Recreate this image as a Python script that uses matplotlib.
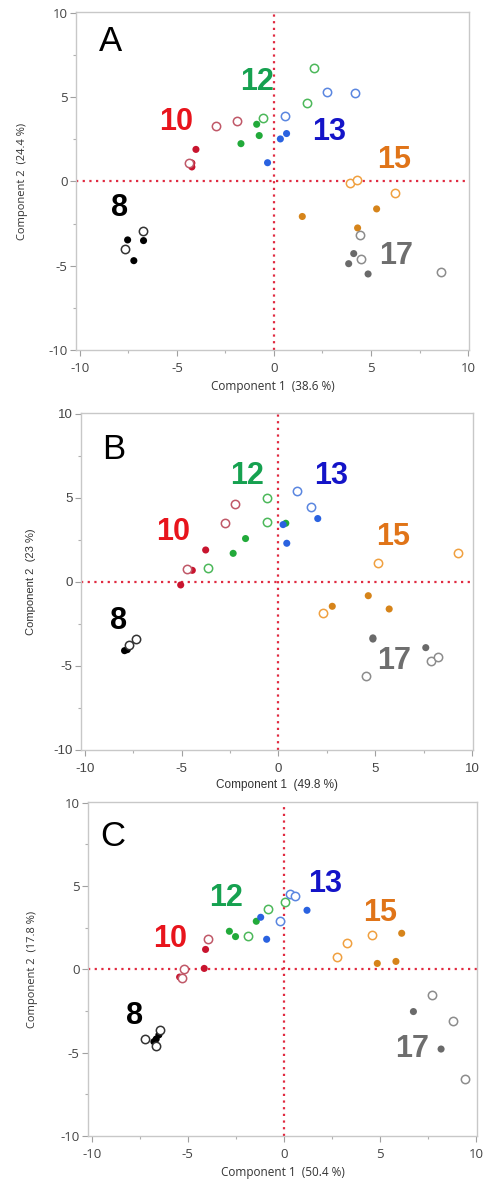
import matplotlib
matplotlib.use("Agg")
import matplotlib.pyplot as plt
import numpy as np

plt.rcParams["axes.unicode_minus"] = False

# ---- data ----
# group = sample label, hollow = 1 for open circles
A_x = [-7.54, -6.72, -7.22, -6.73, -7.65,
       -4.02, -4.23, -4.23, -4.40, -3.00, -1.91,
       -0.89, -0.76, -1.70, -0.55, 1.70, 2.05,
       0.33, 0.65, -0.33, 0.57, 2.73, 4.19,
       1.46, 5.29, 4.31, 3.90, 4.26, 6.24,
       4.11, 3.85, 4.85, 4.43, 4.50, 8.61]
A_y = [-3.47, -3.51, -4.70, -2.93, -4.03,
       1.90, 1.09, 0.86, 1.11, 3.26, 3.60,
       3.39, 2.72, 2.24, 3.79, 4.67, 6.70,
       2.52, 2.84, 1.11, 3.90, 5.30, 5.24,
       -2.08, -1.63, -2.76, -0.08, 0.10, -0.69,
       -4.28, -4.88, -5.49, -3.15, -4.60, -5.36]
A_group = [8] * 5 + [10] * 6 + [12] * 6 + [13] * 6 + [15] * 6 + [17] * 6
A_hollow = [0, 0, 0, 1, 1,
            0, 0, 0, 1, 1, 1,
            0, 0, 0, 1, 1, 1,
            0, 0, 0, 1, 1, 1,
            0, 0, 0, 1, 1, 1,
            0, 0, 0, 1, 1, 1]

B_x = [-7.81, -7.95, -7.34, -7.70,
       -3.76, -4.45, -5.05, -4.72, -2.75, -2.27,
       -1.70, -2.34, 0.38, -3.66, -0.60, -0.58,
       2.03, 0.24, 0.43, 0.95, 1.67,
       4.64, 2.78, 5.72, 2.29, 5.14, 9.25,
       4.88, 4.88, 7.61, 7.87, 8.23, 4.50]
B_y = [-4.03, -4.09, -3.38, -3.75,
       1.90, 0.69, -0.18, 0.75, 3.49, 4.62,
       2.58, 1.70, 3.49, 0.83, 3.57, 4.98,
       3.77, 3.41, 2.30, 5.42, 4.46,
       -0.82, -1.45, -1.61, -1.83, 1.11, 1.74,
       -3.33, -3.40, -3.91, -4.72, -4.49, -5.58]
B_group = [8] * 4 + [10] * 6 + [12] * 6 + [13] * 5 + [15] * 6 + [17] * 6
B_hollow = [0, 0, 1, 1,
            0, 0, 0, 1, 1, 1,
            0, 0, 0, 1, 1, 1,
            0, 0, 0, 1, 1,
            0, 0, 0, 1, 1, 1,
            0, 0, 0, 1, 1, 1]

C_x = [-6.51, -6.65, -6.77, -6.44, -7.24, -6.68,
       -4.08, -4.15, -5.43, -3.94, -5.21, -5.29,
       -2.84, -2.52, -1.44, -1.89, -0.81, 0.07,
       1.20, -1.21, -0.90, 0.30, 0.56, -0.22,
       6.13, 4.86, 5.83, 4.57, 3.27, 2.78,
       6.74, 8.18, 7.71, 8.82, 9.45]
C_y = [-3.93, -4.18, -4.34, -3.63, -4.18, -4.62,
       1.20, 0.06, -0.46, 1.83, 0.02, -0.52,
       2.29, 1.97, 2.89, 2.03, 3.65, 4.02,
       3.55, 3.13, 1.81, 4.50, 4.42, 2.89,
       2.17, 0.36, 0.48, 2.09, 1.58, 0.76,
       -2.53, -4.78, -1.51, -3.11, -6.59]
C_group = [8] * 6 + [10] * 6 + [12] * 6 + [13] * 6 + [15] * 6 + [17] * 5
C_hollow = [0, 0, 0, 1, 1, 1,
            0, 0, 0, 1, 1, 1,
            0, 0, 0, 1, 1, 1,
            0, 0, 0, 1, 1, 1,
            0, 0, 0, 1, 1, 1,
            0, 0, 1, 1, 1]

variance = {"A": ("38.6 %", "24.4 %"), "B": ("49.8 %", "23 %"), "C": ("50.4 %", "17.8 %")}

# dot colours (filled, open) and label colours
dot_colors = {8: ("#000000", "#333333"), 10: ("#c8142e", "#c05868"),
              12: ("#22aa3a", "#4cb85a"), 13: ("#2a62e0", "#5a86e0"),
              15: ("#d6841a", "#f0a040"), 17: ("#6a6a6a", "#8c8c8c")}
label_colors = {8: "#000000", 10: "#e8141c", 12: "#16a150", 13: "#1414c8",
                15: "#e07418", 17: "#6e6e6e"}

# label positions in data coords, per panel
label_pos = {
    "A": {"A": (-8.4, 8.3), 8: (-7.95, -1.6), 10: (-5.05, 3.5), 12: (-0.85, 5.9),
          13: (2.85, 2.95), 15: (6.2, 1.3), 17: (6.3, -4.45)},
    "B": {"B": (-8.5, 7.9), 8: (-8.25, -2.3), 10: (-5.45, 2.95), 12: (-1.6, 6.3),
          13: (2.7, 6.3), 15: (5.9, 2.65), 17: (6.0, -4.7)},
    "C": {"C": (-8.9, 8.0), 8: (-7.8, -2.8), 10: (-5.95, 1.85), 12: (-3.0, 4.3),
          13: (2.15, 5.15), 15: (5.0, 3.4), 17: (6.65, -4.8)},
}

# axes boxes in pixels: left, right, top, bottom
W, H = 486, 1183
boxes = {"A": (76, 469, 12, 350), "B": (81, 473, 413, 750), "C": (88, 477, 802, 1136)}
ylab_x = {"A": 22, "B": 31, "C": 32}

fig = plt.figure(figsize=(W / 100, H / 100), dpi=100)
fig.patch.set_facecolor("white")

panels = {"A": (A_x, A_y, A_group, A_hollow),
          "B": (B_x, B_y, B_group, B_hollow),
          "C": (C_x, C_y, C_group, C_hollow)}

for name, (xs, ys, grp, hol) in panels.items():
    l, r, t, b = boxes[name]
    ax = fig.add_axes([l / W, 1 - b / H, (r - l) / W, (b - t) / H])
    xs, ys, grp, hol = map(np.asarray, (xs, ys, grp, hol))
    tick_font = "Liberation Sans" if name == "B" else "Open Sans"

    ax.axhline(0, color="#e02a40", linestyle=(0, (1, 2)), linewidth=1.6, zorder=1)
    ax.axvline(0, color="#e02a40", linestyle=(0, (1, 2)), linewidth=1.6, zorder=1)

    for g in [8, 10, 12, 13, 15, 17]:
        fc, oc = dot_colors[g]
        m = (grp == g) & (hol == 0)
        ax.scatter(xs[m], ys[m], s=26, color=fc, edgecolors="none", zorder=3)
        m = (grp == g) & (hol == 1)
        ax.scatter(xs[m], ys[m], s=36, facecolors="white", edgecolors=oc,
                   linewidths=1.1, zorder=3)

    for key, (tx, ty) in label_pos[name].items():
        if isinstance(key, str):
            ax.text(tx, ty, key, fontsize=25, color="black", ha="center", va="center",
                    family="Liberation Sans", zorder=4)
        else:
            ax.text(tx, ty, str(key), fontsize=22, fontweight="bold",
                    color=label_colors[key], ha="center", va="center",
                    family="Liberation Sans", zorder=4)

    ax.set_xlim(-10.2, 10.05)
    ax.set_ylim(-10, 10.05)
    ax.set_xticks([-10, -5, 0, 5, 10])
    ax.set_yticks([-10, -5, 0, 5, 10])
    ax.set_xticks([-7.5, -2.5, 2.5, 7.5], minor=True)
    ax.set_yticks([-7.5, -2.5, 2.5, 7.5], minor=True)
    ax.tick_params(which="major", length=4, width=0.8, color="#a0a0a0",
                   labelsize=9.5, labelcolor="#444444", pad=2)
    ax.tick_params(axis="x", which="major", pad=5)
    ax.tick_params(which="minor", length=2.5, width=0.8, color="#b0b0b0")
    for lab in ax.get_xticklabels() + ax.get_yticklabels():
        lab.set_family(tick_font)
    for sp in ax.spines.values():
        sp.set_color("#c8c8c8")
        sp.set_linewidth(1.0)

    xv, yv = variance[name]
    ax.set_xlabel(f"Component 1  ({xv})", fontsize=8.5, color="#333333",
                  family=tick_font, labelpad=3)
    fig.text(ylab_x[name] / W, 1 - (t + b) / 2 / H, f"Component 2  ({yv})",
             rotation=90, fontsize=8, color="#333333", family=tick_font,
             ha="center", va="center")

fig.savefig("out.png", dpi=100, facecolor="white")
